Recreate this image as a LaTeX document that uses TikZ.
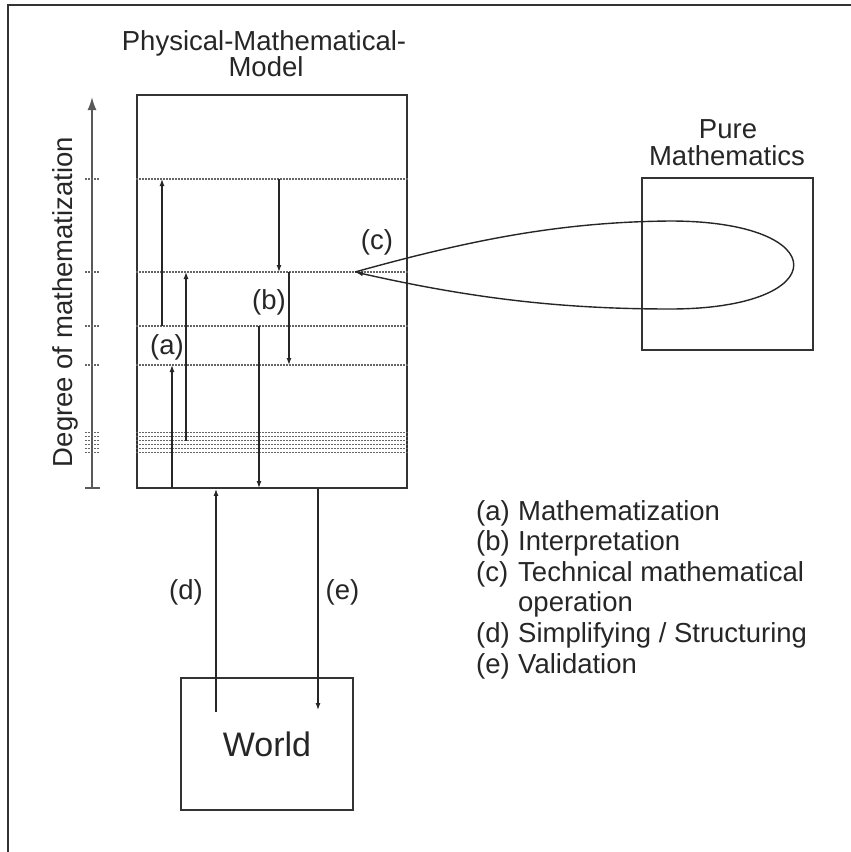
\documentclass[tikz,border=0pt]{standalone}
\usepackage{fontspec}
\setmainfont{Liberation Sans}
\usetikzlibrary{arrows.meta}
\begin{document}
\begin{tikzpicture}[x=1bp,y=-1bp,
  box/.style={draw=black!80, line width=1.8bp, inner sep=0pt},
  dotline/.style={draw=black!60, line width=1.1bp, dash pattern=on 2bp off 1bp},
  arr/.style={draw=black!85, line width=1.2bp, -{Latex[length=7bp,width=5bp]}},
  axisarr/.style={draw=black!65, line width=1.8bp, -{Latex[length=13bp,width=9bp]}},
  lab/.style={font=\fontsize{27.5bp}{28bp}\selectfont, text=black!85, inner sep=0pt},
  leg/.style={font=\fontsize{27.5bp}{28bp}\selectfont, text=black!85, inner sep=0pt, anchor=base west},
]
\useasboundingbox (0,0) rectangle (851,852);
% frame
\draw[line width=2bp, black!80] (8,852) -- (8,5) -- (851,5);

% titles
\node[lab, anchor=base] (t1) at (264,50.5) {Physical-Mathematical-};
\node[lab, anchor=base] (t2) at (266,76.5) {Model};
\node[lab, anchor=base] (p1) at (728,138) {Pure};
\node[lab, anchor=base] (p2) at (727,165) {Mathematics};

% boxes
\node[box, minimum width=270bp, minimum height=393bp] (pmm) at (272,291.5) {};
\node[box, minimum width=171bp, minimum height=172bp] (pure) at (727.5,264) {};
\node[box, minimum width=172bp, minimum height=132bp, font=\fontsize{34bp}{34bp}\selectfont, text=black!85] (world) at (267,744) {World};

% axis
\coordinate (ax0) at (92,488);
\coordinate (ax1) at (92,97);
\draw[axisarr] (ax0) -- (ax1);
\draw[draw=black!65, line width=1.8bp] (85,488) -- (100,488);
\node[lab, rotate=90, anchor=base] (axlab) at (72,302) {Degree of mathematization};

% levels
\foreach \yy in {179,272,326,365,432.5,436.5,440.5,444.5,448.5,452.5}{
  \draw[dotline] (pmm.west |- 0,\yy) -- (pmm.east |- 0,\yy);
  \draw[dotline] (85,\yy) -- (100,\yy);
}

% (a) arrows
\coordinate (a1s) at (162,326); \coordinate (a1e) at (162,179);
\coordinate (a2s) at (186,440.5); \coordinate (a2e) at (186,272);
\coordinate (a3s) at (172,488); \coordinate (a3e) at (172,365);
\draw[arr] (a1s) -- (a1e);
\draw[arr] (a2s) -- (a2e);
\draw[arr] (a3s) -- (a3e);
\node[lab] (la) at (167,347) {(a)};

% (b) arrows
\coordinate (b1s) at (279,179); \coordinate (b1e) at (279,272);
\coordinate (b2s) at (289,272); \coordinate (b2e) at (289,365);
\coordinate (b3s) at (259,326); \coordinate (b3e) at (259,488);
\draw[arr] (b1s) -- (b1e);
\draw[arr] (b2s) -- (b2e);
\draw[arr] (b3s) -- (b3e);
\node[lab] (lb) at (269,302) {(b)};

% (c) loop
\coordinate (ctip) at (355,272);
\draw[draw=black!85, line width=1.4bp, -{Latex[length=8bp,width=5bp]}]
  (ctip) .. controls (470,240) and (560,222) .. (670,221)
  .. controls (835,221) and (835,309) .. (670,309)
  .. controls (560,309) and (470,298) .. (ctip);
\node[lab] (lc) at (377,242) {(c)};

% (d), (e)
\coordinate (ds) at (216,712);
\coordinate (ee) at (318,710);
\draw[arr] (ds) -- (ds |- pmm.south);
\draw[arr] (ee |- pmm.south) -- (ee);
\node[lab] (ld) at (186,592) {(d)};
\node[lab] (le) at (342.5,592) {(e)};

% legend
\node[leg] (ka) at (476,520) {(a)};
\node[leg] (ta) at (518,520) {Mathematization};
\node[leg] (kb) at (476,550.6) {(b)};
\node[leg] (tb) at (518,550.6) {Interpretation};
\node[leg] (kc) at (476,581.2) {(c)};
\node[leg] (tc) at (518,581.2) {Technical mathematical};
\node[leg] (tc2) at (518,611.8) {operation};
\node[leg] (kd) at (476,642.4) {(d)};
\node[leg] (td) at (518,642.4) {Simplifying / Structuring};
\node[leg] (ke) at (476,673) {(e)};
\node[leg] (te) at (518,673) {Validation};
\end{tikzpicture}
\end{document}
